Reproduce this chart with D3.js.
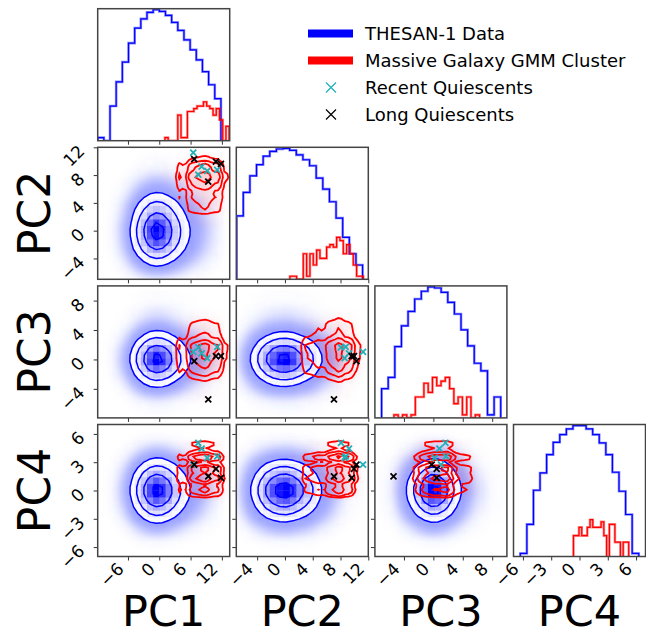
<!DOCTYPE html>
<html>
<head>
<meta charset="utf-8">
<script src="https://cdn.jsdelivr.net/npm/d3@7"></script>
<style>
  body { margin: 0; background: #fff; }
  svg { display: block; font-family: 'DejaVu Sans', sans-serif; }
</style>
</head>
<body>
<div class="drawer"></div>
<script>
// ---- data ----
const dims = ['PC1', 'PC2', 'PC3', 'PC4']
const axisRange = [[-11.8, 13.5], [-7.0, 12.0], [-7.95, 10.0], [-7.0, 7.0]]
const tickValues = [[-6, 0, 6, 12], [-4, 0, 4, 8, 12], [-4, 0, 4, 8], [-6, -3, 0, 3, 6]]
const histCountRange = [0.83, 2800]   // log y axis of the diagonal panels

// THESAN-1 histograms (left edge of first bin, bin width, counts)
const blueBinStart = [-11.8, -6.95, -7.04, -6.28]
const blueBinWidth = [1.181, 0.954, 0.9, 0.698]
const pc1Blue = [1, 0, 7, 31, 105, 337, 850, 1494, 2236, 2627, 2366, 1858, 1202, 735, 412, 223, 120, 58, 26, 11]
const pc2Blue = [41, 174, 484, 959, 1620, 2183, 2523, 2627, 2328, 1756, 1303, 899, 422, 214, 98, 36, 11, 4, 2]
const pc3Blue = [5, 10, 67, 240, 582, 1252, 2014, 2627, 2464, 1888, 1015, 496, 188, 70, 24, 15, 1, 3]
const pc4Blue = [1, 6, 49, 142, 439, 936, 1507, 2131, 2627, 2627, 2131, 1507, 899, 439, 148, 46, 11, 1]

// Massive galaxy GMM cluster histograms
const redBinStart = [1.09, 0.72, -5.36, -0.64]
const redBinWidth = [0.615, 0.48, 0.582, 0.293]
const pc1Red = [1, 0, 0, 0, 4, 1, 1, 5, 5, 6, 7, 7, 9, 7, 6, 4, 6, 3, 0, 2]
const pc2Red = [1, 1, 0, 0, 4, 1, 4, 2, 5, 3, 3, 6, 7, 6, 11, 9, 4, 7, 4, 2, 1, 1]
const pc3Red = [1, 0, 1, 0, 1, 3, 3, 7, 4, 10, 6, 8, 10, 5, 2, 3, 1, 3, 0, 1]
const pc4Red = [3, 3, 5, 3, 3, 5, 8, 5, 5, 5, 7, 3, 0, 6, 6, 2, 2, 0, 2, 2]

// galaxies: [PC1, PC2, PC3, PC4]
const recentQuiescents = [
  [6.51, 11.24, 1.04, 2.75],
  [8.12, 9.22, 0.82, 4.45],
  [9.2, 8.6, 0.18, 3.46],
  [7.48, 8.07, 1.64, 5.05],
  [11.11, 8.75, 1.72, 3.63]
]
const longQuiescents = [
  [6.7, 10.29, -0.23, 2.75],
  [10.86, 9.94, 0.45, 2.3],
  [11.82, 9.61, 0.45, 1.35],
  [9.39, 7.06, -5.42, 1.51]
]
const legendLabels = ['THESAN-1 Data', 'Massive Galaxy GMM Cluster', 'Recent Quiescents', 'Long Quiescents']
const sigmaLevels = [0.5, 1, 1.5, 2]

{
  const W = 646, H = 636
  const left = 97.7, top = 8.7, size = 132, step = 138.6
  const pad = 2
  const blue = '#0000ff', red = '#ff0000', cyan = '#20b0b8'
  const blueCounts = [pc1Blue, pc2Blue, pc3Blue, pc4Blue]
  const redCounts = [pc1Red, pc2Red, pc3Red, pc4Red]

  let svg = d3.select('.drawer').append('svg')
    .attr('width', W)
    .attr('height', H)
  let defs = svg.append('defs')
  defs.append('filter').attr('id', 'blurB').attr('x', '-20%').attr('y', '-20%').attr('width', '140%').attr('height', '140%')
    .append('feGaussianBlur').attr('stdDeviation', 3)
  defs.append('filter').attr('id', 'blurR').attr('x', '-20%').attr('y', '-20%').attr('width', '140%').attr('height', '140%')
    .append('feGaussianBlur').attr('stdDeviation', 1.5)

  let xScale = dims.map((d, k) => d3.scaleLinear().domain(axisRange[k]).range([left + k * step, left + k * step + size]))
  let yScale = dims.map((d, k) => d3.scaleLinear().domain(axisRange[k]).range([top + k * step + size, top + k * step]))

  let levelFracs = sigmaLevels.map(s => 1 - Math.exp(-0.5 * s * s))

  // joint counts from the two marginals (PCs are uncorrelated), padded with empty cells
  function densityGrid (cx, cy) {
    let norm = Math.sqrt(d3.sum(cx) * d3.sum(cy))
    let nx = cx.length + 2 * pad, ny = cy.length + 2 * pad
    let values = new Array(nx * ny).fill(0)
    cy.forEach((vy, j) => cx.forEach((vx, i) => { values[(j + pad) * nx + i + pad] = vx * vy / norm }))
    return { nx, ny, values }
  }
  // light 1-2-1 smoothing, like corner's smooth option
  function smoothGrid (grid) {
    let { nx, ny, values } = grid
    let k = [0.25, 0.5, 0.25]
    let tmp = new Array(nx * ny).fill(0), out = new Array(nx * ny).fill(0)
    for (let j = 0; j < ny; j++) {
      for (let i = 0; i < nx; i++) {
        let s = 0
        for (let d = -1; d <= 1; d++) if (i + d >= 0 && i + d < nx) s += k[d + 1] * values[j * nx + i + d]
        tmp[j * nx + i] = s
      }
    }
    for (let j = 0; j < ny; j++) {
      for (let i = 0; i < nx; i++) {
        let s = 0
        for (let d = -1; d <= 1; d++) if (j + d >= 0 && j + d < ny) s += k[d + 1] * tmp[(j + d) * nx + i]
        out[j * nx + i] = s
      }
    }
    return { nx, ny, values: out }
  }
  function massLevels (values) {
    let sorted = values.slice().sort((a, b) => b - a)
    let total = d3.sum(sorted), cum = 0
    let cums = sorted.map(v => (cum += v) / total)
    return levelFracs.map(f => {
      let idx = cums.findIndex(c => c > f)
      return sorted[Math.max(idx - 1, 0)]
    }).sort((a, b) => a - b)
  }
  function gridPath (xs, ys, sx, wx, sy, wy) {
    let proj = d3.geoTransform({
      point: function (gx, gy) {
        this.stream.point(xs(sx + (gx - pad) * wx), ys(sy + (gy - pad) * wy))
      }
    })
    return d3.geoPath(proj)
  }
  function cellsOf (grid) {
    let cells = []
    for (let j = 0; j < grid.ny; j++) {
      for (let i = 0; i < grid.nx; i++) {
        let v = grid.values[j * grid.nx + i]
        if (v > 0) cells.push({ i: i - pad, j: j - pad, v })
      }
    }
    return cells
  }
  function stepPoints (counts, start, width) {
    let pts = [[start, 0]]
    counts.forEach((c, i) => {
      pts.push([start + i * width, c])
      pts.push([start + (i + 1) * width, c])
    })
    pts.push([start + counts.length * width, 0])
    return pts
  }

  // ---- panels ----
  for (let r = 0; r < 4; r++) {
    for (let c = 0; c <= r; c++) {
      let x0 = left + c * step, y0 = top + r * step
      let clipId = `clip-${r}-${c}`
      defs.append('clipPath').attr('id', clipId)
        .append('rect').attr('x', x0).attr('y', y0).attr('width', size).attr('height', size)
      let panel = svg.append('g').attr('class', 'panel')
      let body = panel.append('g').attr('clip-path', `url(#${clipId})`)
      let xs = xScale[c]

      if (r === c) {
        // 1D histograms on a log count axis
        let hy = d3.scaleLog().domain(histCountRange).range([y0 + size, y0])
        let line = d3.line().x(d => xs(d[0])).y(d => d[1] > 0 ? hy(d[1]) : y0 + size)
        let bPts = stepPoints(blueCounts[c], blueBinStart[c], blueBinWidth[c])
        let rPts = stepPoints(redCounts[c], redBinStart[c], redBinWidth[c])
        ;[[bPts, blue], [rPts, red]].forEach(([pts, col]) => {
          body.append('path').attr('d', line(pts)).attr('fill', 'none')
            .attr('stroke', col).attr('stroke-opacity', 0.45).attr('stroke-width', 2.6)
          body.append('path').attr('d', line(pts)).attr('fill', 'none')
            .attr('stroke', col).attr('stroke-width', 1.2)
        })
      } else {
        let ys = yScale[r]
        let bsx = blueBinStart[c], bwx = blueBinWidth[c], bsy = blueBinStart[r], bwy = blueBinWidth[r]
        let rsx = redBinStart[c], rwx = redBinWidth[c], rsy = redBinStart[r], rwy = redBinWidth[r]

        let bRaw = densityGrid(blueCounts[c], blueCounts[r])
        let bGrid = smoothGrid(bRaw)
        let rGrid = smoothGrid(densityGrid(redCounts[c], redCounts[r]))
        let bMax = d3.max(bRaw.values)
        let bCells = cellsOf(bRaw), rCells = cellsOf(rGrid)

        // scattered points, shown as a soft cloud
        body.append('g').attr('filter', 'url(#blurB)')
          .selectAll('rect').data(bCells).enter()
          .append('rect')
          .attr('x', d => xs(bsx + d.i * bwx))
          .attr('y', d => ys(bsy + (d.j + 1) * bwy))
          .attr('width', xs(bsx + bwx) - xs(bsx) + 0.5)
          .attr('height', ys(bsy) - ys(bsy + bwy) + 0.5)
          .attr('fill', '#4050ff')
          .attr('fill-opacity', d => 0.55 * (1 - Math.exp(-d.v / 12)))
        body.append('g').attr('filter', 'url(#blurR)')
          .selectAll('rect').data(rCells).enter()
          .append('rect')
          .attr('x', d => xs(rsx + d.i * rwx))
          .attr('y', d => ys(rsy + (d.j + 1) * rwy))
          .attr('width', xs(rsx + rwx) - xs(rsx) + 0.5)
          .attr('height', ys(rsy) - ys(rsy + rwy) + 0.5)
          .attr('fill', '#ff3030')
          .attr('fill-opacity', d => 0.2 * (1 - Math.exp(-2 * d.v)))

        // blue density: white under the outer contour, then cells, then contour lines
        let bLevels = massLevels(bGrid.values)
        let bContours = d3.contours().size([bGrid.nx, bGrid.ny]).thresholds(bLevels)(bGrid.values)
        let bPath = gridPath(xs, ys, bsx, bwx, bsy, bwy)
        body.append('path').attr('d', bPath(bContours[0])).attr('fill', '#fff')
        body.append('g').selectAll('rect').data(bCells).enter()
          .append('rect')
          .attr('x', d => xs(bsx + d.i * bwx))
          .attr('y', d => ys(bsy + (d.j + 1) * bwy))
          .attr('width', xs(bsx + bwx) - xs(bsx) + 0.3)
          .attr('height', ys(bsy) - ys(bsy + bwy) + 0.3)
          .attr('fill', d => {
            let t = d.v / bMax
            return d3.rgb(255 * (1 - t), 255 * (1 - t), 255)
          })
          .attr('fill-opacity', d => d.v / bMax)
        body.append('g').selectAll('path').data(bContours).enter()
          .append('path')
          .attr('d', d => bPath(d))
          .attr('fill', 'none')
          .attr('stroke', blue)
          .attr('stroke-width', 1.5)

        // red cluster contours
        let rLevels = massLevels(rGrid.values)
        let rContours = d3.contours().size([rGrid.nx, rGrid.ny]).thresholds(rLevels)(rGrid.values)
        let rPath = gridPath(xs, ys, rsx, rwx, rsy, rwy)
        body.append('g').selectAll('path').data(rContours).enter()
          .append('path')
          .attr('d', d => rPath(d))
          .attr('fill', 'none')
          .attr('stroke', red)
          .attr('stroke-width', 1.8)

        // quiescent galaxies
        ;[[recentQuiescents, cyan], [longQuiescents, '#000']].forEach(([pts, col]) => {
          body.append('g').selectAll('path').data(pts).enter()
            .append('path')
            .attr('transform', d => `translate(${xs(d[c])},${ys(d[r])})`)
            .attr('d', 'M-3,-3L3,3M-3,3L3,-3')
            .attr('stroke', col)
            .attr('stroke-width', 1.8)
        })
      }

      // ticks
      let bottomAxis = panel.append('g')
        .attr('transform', `translate(0,${y0 + size})`)
        .call(d3.axisBottom(xs).tickValues(tickValues[c]).tickSize(4).tickFormat(''))
      bottomAxis.select('.domain').remove()
      bottomAxis.selectAll('line').attr('stroke', '#333')
      if (c < r) {
        let leftAxis = panel.append('g')
          .attr('transform', `translate(${x0},0)`)
          .call(d3.axisLeft(yScale[r]).tickValues(tickValues[r]).tickSize(4).tickFormat(''))
        leftAxis.select('.domain').remove()
        leftAxis.selectAll('line').attr('stroke', '#333')
      }
      // spines
      panel.append('rect')
        .attr('x', x0).attr('y', y0).attr('width', size).attr('height', size)
        .attr('fill', 'none').attr('stroke', '#444').attr('stroke-width', 1.5)
    }
  }

  // ---- tick labels and axis labels ----
  let fmt = v => v < 0 ? '\u2212' + Math.abs(v) : String(v)
  let bottom = top + 3 * step + size
  dims.forEach((d, k) => {
    svg.append('g').selectAll('text').data(tickValues[k]).enter()
      .append('text')
      .attr('transform', v => `translate(${xScale[k](v) - 3},${bottom + 13.5}) rotate(-45)`)
      .attr('text-anchor', 'end')
      .attr('font-size', 17)
      .text(fmt)
    svg.append('text')
      .attr('x', left + k * step + size / 2)
      .attr('y', 626)
      .attr('text-anchor', 'middle')
      .attr('font-size', 43)
      .text(d)
    if (k > 0) {
      svg.append('g').selectAll('text').data(tickValues[k]).enter()
        .append('text')
        .attr('transform', v => `translate(${left - 12},${yScale[k](v) + 5}) rotate(-45)`)
        .attr('text-anchor', 'end')
        .attr('font-size', 17)
        .text(fmt)
      svg.append('text')
        .attr('transform', `translate(50,${top + k * step + size / 2}) rotate(-90)`)
        .attr('text-anchor', 'middle')
        .attr('font-size', 44)
        .text(d)
    }
  })

  // ---- legend ----
  let legend = svg.append('g').attr('class', 'legend')
  let rowsY = [33.5, 60.5, 87.5, 114.5]
  legend.selectAll('text').data(legendLabels).enter()
    .append('text')
    .attr('x', 365)
    .attr('y', (d, i) => rowsY[i] + 6.5)
    .attr('font-size', 18)
    .text(d => d)
  ;[blue, red].forEach((col, i) => {
    legend.append('rect')
      .attr('x', 308).attr('y', rowsY[i] - 4).attr('width', 45).attr('height', 8)
      .attr('fill', col)
  })
  ;[cyan, '#000'].forEach((col, i) => {
    legend.append('path')
      .attr('transform', `translate(331,${rowsY[i + 2]})`)
      .attr('d', 'M-5,-5L5,5M-5,5L5,-5')
      .attr('stroke', col)
      .attr('stroke-width', 1.2)
  })
}
</script>
</body>
</html>
